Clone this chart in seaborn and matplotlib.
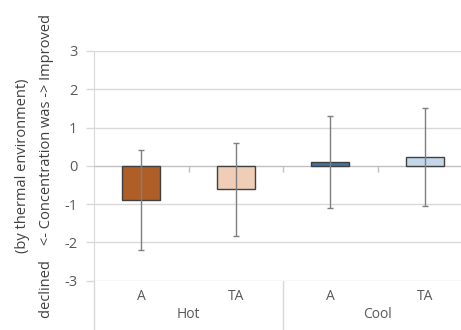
import numpy as np
import pandas as pd
import matplotlib
matplotlib.use('Agg')
import matplotlib.pyplot as plt
import matplotlib.transforms as mtransforms
import seaborn as sns

# chart data
groups = ['Hot', 'Hot', 'Cool', 'Cool']
conditions = ['A', 'TA', 'A', 'TA']
means = [-0.89, -0.61, 0.11, 0.23]
sds = [1.30, 1.21, 1.20, 1.27]
colors = ['#C55A11', '#F8CBAD', '#2E75B6', '#BDD7EE']
yticks = [-3, -2, -1, 0, 1, 2, 3]

sns.set_style('white')
plt.rcParams['font.family'] = ['Open Sans', 'DejaVu Sans']

grid_c = '#d9d9d9'
text_c = '#595959'
fs = 10

df = pd.DataFrame({'key': [g + ' ' + c for g, c in zip(groups, conditions)],
                   'mean': means, 'sd': sds})

fig = plt.figure(figsize=(4.61, 3.30), dpi=100)
ax = fig.add_axes([94 / 461, 1 - 280.7 / 330, 378 / 461, 229.7 / 330])

sns.barplot(data=df, x='key', y='mean', hue='key', palette=colors, width=0.4,
            edgecolor='#404040', linewidth=1, errorbar=None, legend=False, ax=ax, zorder=3)
ax.errorbar(np.arange(len(df)), df['mean'], yerr=df['sd'], fmt='none',
            ecolor='#7f7f7f', elinewidth=1, capsize=2.5, capthick=1, zorder=4)

ax.set_xlim(-0.5, 3.5)
ax.set_ylim(-3, 3)
ax.set_yticks(yticks)
ax.set_yticklabels([str(t) for t in yticks], fontsize=fs + 0.5, color=text_c)
ax.yaxis.grid(True, color=grid_c, lw=1, zorder=0)
ax.tick_params(axis='y', length=6, width=1, color=grid_c, pad=6, left=True)

# horizontal axis crosses at zero, ticks between categories
ax.spines['bottom'].set_position(('data', 0))
ax.spines['bottom'].set_color('#bfbfbf')
ax.set_xticks([0.5, 1.5, 2.5])
ax.set_xticklabels([])
ax.tick_params(axis='x', length=4, width=1, color='#bfbfbf', direction='out', bottom=True)
ax.set_xlabel('')
ax.set_ylabel('')
for s in ['top', 'right']:
    ax.spines[s].set_visible(False)
ax.spines['left'].set_color(grid_c)

# category labels area below the plot
trans = mtransforms.blended_transform_factory(ax.transData, ax.transAxes)
ax.plot([-0.5, -0.5], [0, -0.22], transform=trans, color=grid_c, lw=1, clip_on=False)
ax.plot([1.5, 1.5], [0, -0.22], transform=trans, color=grid_c, lw=1, clip_on=False)
for i, c in enumerate(conditions):
    ax.text(i, -0.067, c, transform=trans, ha='center', va='center', fontsize=fs, color=text_c)
for i, g in enumerate(['Hot', 'Cool']):
    ax.text(0.5 + 2 * i, -0.145, g, transform=trans, ha='center', va='center', fontsize=fs, color=text_c)

# y label in two columns, centred on the plot area
yc = 1 - 166 / 330
fig.text(22 / 461, yc, '(by thermal environment)', rotation=90,
         ha='center', va='center', fontsize=fs + 0.5, color='#404040')
fig.text(47 / 461, yc, 'declined    <- Concentration was -> Improved', rotation=90,
         ha='center', va='center', fontsize=fs + 0.5, color='#404040')

fig.savefig('out.png', dpi=100)
